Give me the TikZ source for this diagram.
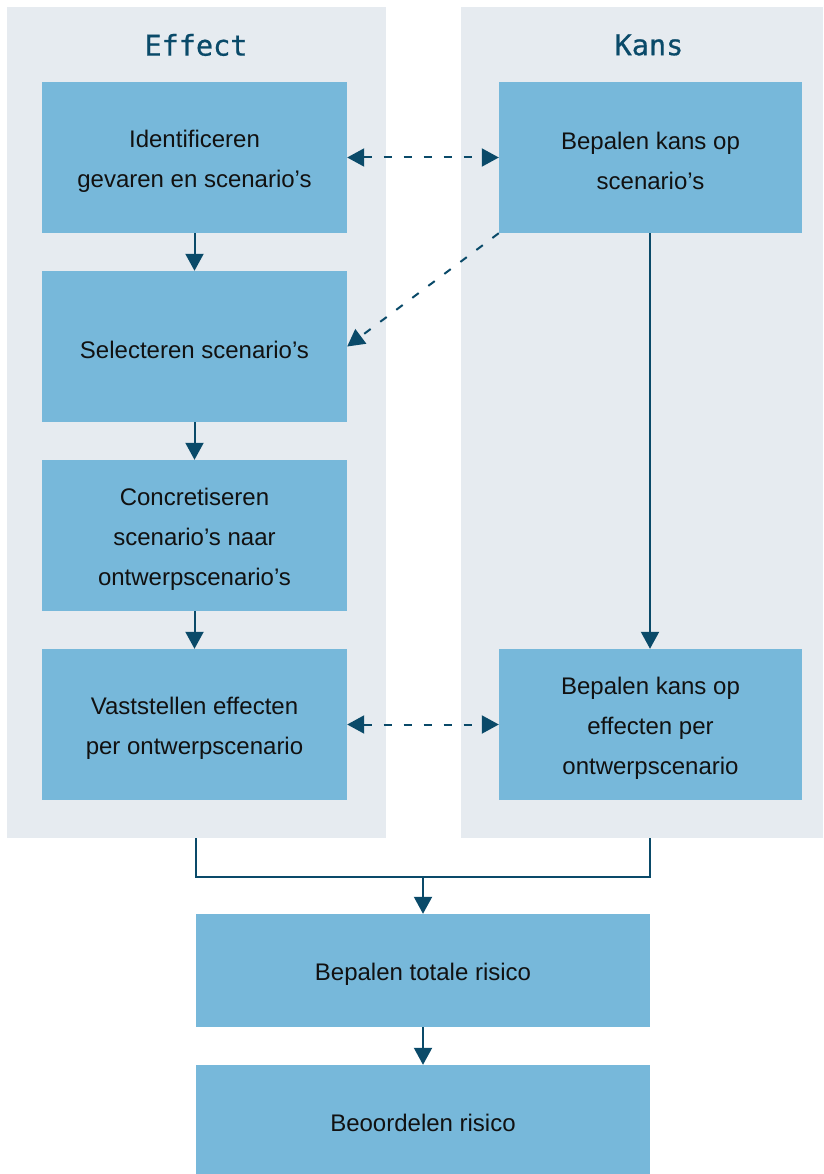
\documentclass[tikz,border=0pt]{standalone}
\usepackage{fontspec}
\setmainfont{Liberation Sans}
\newfontfamily\headfont[FakeBold=0.7]{DejaVu Sans Mono}
\usetikzlibrary{arrows.meta}

\definecolor{panelgrey}{HTML}{E6EBF0}
\definecolor{boxblue}{HTML}{77B8DA}
\definecolor{darkblue}{HTML}{0A4A69}
\definecolor{inktext}{HTML}{111111}

% invisible strut that lowers the text block inside a box
\newcommand{\toplift}{\rule{0pt}{25pt}}

\begin{document}
\begin{tikzpicture}[x=1pt, y=-1pt,
  panel/.style={fill=panelgrey, draw=none, inner sep=0pt, anchor=north west},
  stepbox/.style={fill=boxblue, draw=none, inner sep=0pt, align=center,
    font=\fontsize{24}{40}\selectfont, text=inktext},
  header/.style={font=\headfont\fontsize{28.5}{30}\selectfont, text=darkblue},
  flow/.style={draw=darkblue, line width=2pt, -{Triangle[length=17pt,width=18pt]}},
  link/.style={draw=darkblue, line width=2pt, dash pattern=on 8pt off 12pt,
    {Triangle[length=17pt,width=18pt]}-{Triangle[length=17pt,width=18pt]}},
  hint/.style={draw=darkblue, line width=2pt, dash pattern=on 8pt off 12pt,
    -{Triangle[length=17pt,width=18pt]}},
  mergeline/.style={draw=darkblue, line width=2pt}
]
\useasboundingbox (0,0) rectangle (823,1174);

% column backgrounds
\node[panel, minimum width=379pt, minimum height=831pt] (leftpanel) at (7,7) {};
\node[panel, minimum width=362pt, minimum height=831pt] (rightpanel) at (461,7) {};

% column headers
\node[header] (effecthead) at (196,45) {Effect};
\node[header] (kanshead) at (649,45) {Kans};

% effect column
\node[stepbox, minimum width=305pt, minimum height=151pt] (ident) at (194.5,157.5)
  {\toplift Identificeren\\gevaren en scenario’s};
\node[stepbox, minimum width=305pt, minimum height=151pt] (select) at (194.5,346.5)
  {\rule{0pt}{24pt}Selecteren scenario’s};
\node[stepbox, minimum width=305pt, minimum height=151pt] (concr) at (194.5,535.5)
  {\toplift Concretiseren\\scenario’s naar\\ontwerpscenario’s};
\node[stepbox, minimum width=305pt, minimum height=151pt] (effects) at (194.5,724.5)
  {\toplift Vaststellen effecten\\per ontwerpscenario};

% probability column
\node[stepbox, minimum width=303pt, minimum height=151pt] (kansscen) at (650.5,157.5)
  {\toplift Bepalen kans op\\scenario’s};
\node[stepbox, minimum width=303pt, minimum height=151pt] (kanseff) at (650.5,724.5)
  {\toplift Bepalen kans op\\effecten per\\ontwerpscenario};

% combined steps
\node[stepbox, minimum width=454pt, minimum height=113pt] (totaal) at (423,970.5)
  {\rule{0pt}{24pt}Bepalen totale risico};
\node[stepbox, minimum width=454pt, minimum height=109pt] (beoordeel) at (423,1119.5)
  {\rule{0pt}{24pt}Beoordelen risico};

% main flow
\draw[flow] (kansscen.south -| 650,0) -- (kanseff.north -| 650,0);
\draw[flow] (ident) -- (select);
\draw[flow] (select) -- (concr);
\draw[flow] (concr) -- (effects);

% interactions between columns
\draw[link] (ident.east) -- (kansscen.west);
\draw[link] (effects.east) -- (kanseff.west);
\draw[hint] (kansscen.south west) -- (select.east);

% merge towards total risk
\coordinate (merge) at (423,877);
\draw[mergeline] (leftpanel.south -| 196,0) |- (merge) -| (rightpanel.south -| 650,0);
\draw[flow] (merge) -- (totaal.north);
\draw[flow] (totaal) -- (beoordeel);
\end{tikzpicture}
\end{document}
